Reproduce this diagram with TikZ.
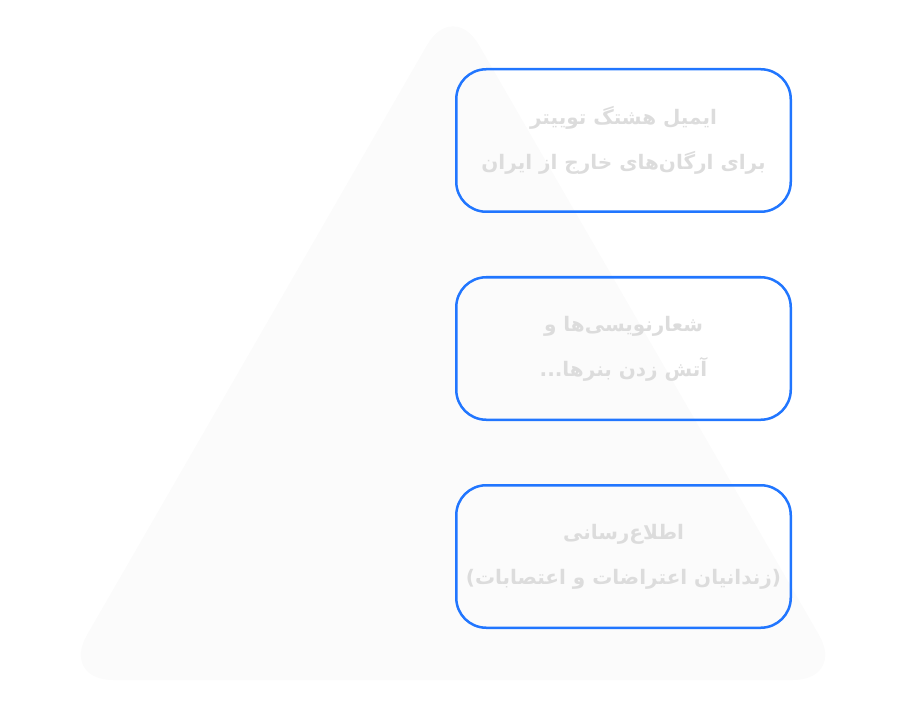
\documentclass[tikz,border=0pt]{standalone}
\usepackage{fontspec}
\usetikzlibrary{positioning}
\newfontfamily\arabicfont[Script=Arabic]{DejaVu Sans}
\TeXXeTstate=1
\definecolor{boxblue}{HTML}{2176FF}
\definecolor{pyramidgray}{HTML}{FBFBFB}
\definecolor{labelgray}{HTML}{DCDCDC}

\begin{document}
\begin{tikzpicture}[x=1pt,y=-1pt,
  level/.style={draw=boxblue, line width=2.5pt, rounded corners=30pt,
    minimum width=334.5pt, minimum height=142.5pt, inner sep=0pt,
    align=center, text=labelgray,
    font=\arabicfont\bfseries\fontsize{20}{45}\selectfont},
  node distance=63pt]
\useasboundingbox (0,0) rectangle (907,719);
% pyramid in the back
\fill[pyramidgray, rounded corners=52pt] (453,0) -- (845,680) -- (61,680) -- cycle;
\node[level] (twitter) at (623.5,140.5)
  {\beginR ایمیل هشتگ توییتر\endR\\ \beginR برای ارگان‌های خارج از ایران\endR};
\node[level, below=of twitter] (slogans)
  {\beginR شعارنویسی‌ها و\endR\\ \beginR آتش زدن بنرها...\endR};
\node[level, below=of slogans] (inform)
  {\beginR اطلاع‌رسانی\endR\\ \beginR (زندانیان اعتراضات و اعتصابات)\endR};
\end{tikzpicture}
\end{document}
